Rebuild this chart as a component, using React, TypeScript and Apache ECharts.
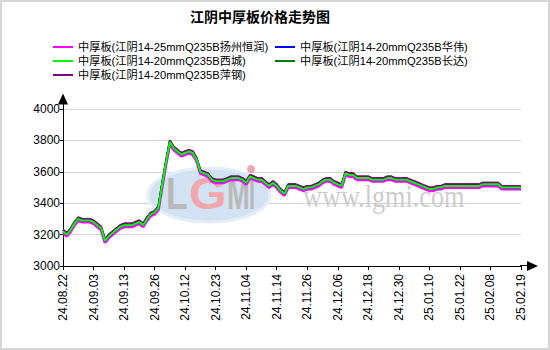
import React, { useEffect, useRef } from "react";
import * as echarts from "echarts";

const FONT = "'Liberation Sans', 'Noto Sans CJK SC', sans-serif";

const chartTitle = "江阴中厚板价格走势图";

const categories = [
  "24.08.22", "24.08.23", "24.08.26", "24.08.27", "24.08.28", "24.08.29", "24.08.30", "24.09.02", "24.09.03", "24.09.04",
  "24.09.05", "24.09.06", "24.09.09", "24.09.10", "24.09.11", "24.09.12", "24.09.13", "24.09.14", "24.09.18", "24.09.19",
  "24.09.20", "24.09.23", "24.09.24", "24.09.25", "24.09.26", "24.09.27", "24.09.29", "24.09.30", "24.10.08", "24.10.09",
  "24.10.10", "24.10.11", "24.10.12", "24.10.14", "24.10.15", "24.10.16", "24.10.17", "24.10.18", "24.10.21", "24.10.22",
  "24.10.23", "24.10.24", "24.10.25", "24.10.28", "24.10.29", "24.10.30", "24.10.31", "24.11.01", "24.11.04", "24.11.05",
  "24.11.06", "24.11.07", "24.11.08", "24.11.11", "24.11.12", "24.11.13", "24.11.14", "24.11.15", "24.11.18", "24.11.19",
  "24.11.20", "24.11.21", "24.11.22", "24.11.25", "24.11.26", "24.11.27", "24.11.28", "24.11.29", "24.12.02", "24.12.03",
  "24.12.04", "24.12.05", "24.12.06", "24.12.09", "24.12.10", "24.12.11", "24.12.12", "24.12.13", "24.12.16", "24.12.17",
  "24.12.18", "24.12.19", "24.12.20", "24.12.23", "24.12.24", "24.12.25", "24.12.26", "24.12.27", "24.12.30", "24.12.31",
  "25.01.02", "25.01.03", "25.01.06", "25.01.07", "25.01.08", "25.01.09", "25.01.10", "25.01.13", "25.01.14", "25.01.15",
  "25.01.16", "25.01.17", "25.01.20", "25.01.21", "25.01.22", "25.01.23", "25.01.24", "25.01.26", "25.01.27", "25.02.05",
  "25.02.06", "25.02.07", "25.02.08", "25.02.10", "25.02.11", "25.02.12", "25.02.13", "25.02.14", "25.02.17", "25.02.18",
  "25.02.19",
];

const seriesNames = [
  "中厚板(江阴14-25mmQ235B扬州恒润)",
  "中厚板(江阴14-20mmQ235B华伟)",
  "中厚板(江阴14-20mmQ235B西城)",
  "中厚板(江阴14-20mmQ235B长达)",
  "中厚板(江阴14-20mmQ235B萍钢)",
];

const yangzhouHengrun = [
  3210, 3190, 3220, 3260, 3290, 3280, 3280, 3280, 3270, 3250,
  3230, 3150, 3180, 3200, 3220, 3240, 3250, 3250, 3250, 3260,
  3270, 3250, 3290, 3320, 3330, 3360, 3510, 3650, 3780, 3740,
  3720, 3700, 3710, 3720, 3710, 3670, 3590, 3580, 3570, 3540,
  3530, 3530, 3530, 3540, 3550, 3550, 3550, 3540, 3520, 3560,
  3550, 3540, 3540, 3520, 3500, 3520, 3500, 3470, 3450, 3500,
  3500, 3500, 3490, 3480, 3490, 3490, 3500, 3510, 3530, 3540,
  3540, 3520, 3510, 3500, 3580, 3570, 3570, 3550, 3550, 3550,
  3550, 3540, 3540, 3540, 3540, 3550, 3550, 3540, 3540, 3540,
  3540, 3530, 3520, 3510, 3500, 3490, 3480, 3480, 3490, 3490,
  3500, 3500, 3500, 3500, 3500, 3500, 3500, 3500, 3500, 3500,
  3510, 3510, 3510, 3510, 3510, 3490, 3490, 3490, 3490, 3490,
  3490,
];

const huawei = [
  3220, 3200, 3230, 3270, 3300, 3290, 3290, 3290, 3280, 3260,
  3240, 3160, 3190, 3210, 3230, 3250, 3260, 3260, 3260, 3270,
  3280, 3260, 3300, 3330, 3340, 3370, 3520, 3660, 3790, 3750,
  3730, 3710, 3720, 3730, 3720, 3680, 3600, 3590, 3580, 3550,
  3540, 3540, 3540, 3550, 3560, 3560, 3560, 3550, 3530, 3570,
  3560, 3550, 3550, 3530, 3510, 3530, 3510, 3480, 3460, 3510,
  3510, 3510, 3500, 3490, 3500, 3500, 3510, 3520, 3540, 3550,
  3550, 3530, 3520, 3510, 3590, 3580, 3580, 3560, 3560, 3560,
  3560, 3550, 3550, 3550, 3550, 3560, 3560, 3550, 3550, 3550,
  3550, 3540, 3530, 3520, 3510, 3500, 3490, 3490, 3500, 3500,
  3510, 3510, 3510, 3510, 3510, 3510, 3510, 3510, 3510, 3510,
  3520, 3520, 3520, 3520, 3520, 3500, 3500, 3500, 3500, 3500,
  3500,
];

const xicheng = [
  3220, 3200, 3230, 3270, 3300, 3290, 3290, 3290, 3280, 3260,
  3240, 3160, 3190, 3210, 3230, 3250, 3260, 3260, 3260, 3270,
  3280, 3260, 3300, 3330, 3340, 3370, 3520, 3660, 3790, 3750,
  3730, 3710, 3720, 3730, 3720, 3680, 3600, 3590, 3580, 3550,
  3540, 3540, 3540, 3550, 3560, 3560, 3560, 3550, 3530, 3570,
  3560, 3550, 3550, 3530, 3510, 3530, 3510, 3480, 3460, 3510,
  3510, 3510, 3500, 3490, 3500, 3500, 3510, 3520, 3540, 3550,
  3550, 3530, 3520, 3510, 3590, 3580, 3580, 3560, 3560, 3560,
  3560, 3550, 3550, 3550, 3550, 3560, 3560, 3550, 3550, 3550,
  3550, 3540, 3530, 3520, 3510, 3500, 3490, 3490, 3500, 3500,
  3510, 3510, 3510, 3510, 3510, 3510, 3510, 3510, 3510, 3510,
  3520, 3520, 3520, 3520, 3520, 3500, 3500, 3500, 3500, 3500,
  3500,
];

const changda = [
  3230, 3210, 3240, 3280, 3310, 3300, 3300, 3300, 3290, 3270,
  3250, 3170, 3200, 3220, 3240, 3260, 3270, 3270, 3270, 3280,
  3290, 3270, 3310, 3340, 3350, 3380, 3530, 3670, 3800, 3760,
  3740, 3720, 3730, 3740, 3730, 3690, 3610, 3600, 3590, 3560,
  3550, 3550, 3550, 3560, 3570, 3570, 3570, 3560, 3540, 3580,
  3570, 3560, 3560, 3540, 3520, 3540, 3520, 3490, 3470, 3520,
  3520, 3520, 3510, 3500, 3510, 3510, 3520, 3530, 3550, 3560,
  3560, 3540, 3530, 3520, 3600, 3590, 3590, 3570, 3570, 3570,
  3570, 3560, 3560, 3560, 3560, 3570, 3570, 3560, 3560, 3560,
  3560, 3550, 3540, 3530, 3520, 3510, 3500, 3500, 3510, 3510,
  3520, 3520, 3520, 3520, 3520, 3520, 3520, 3520, 3520, 3520,
  3530, 3530, 3530, 3530, 3530, 3510, 3510, 3510, 3510, 3510,
  3510,
];

const pinggang = [
  3230, 3210, 3240, 3280, 3310, 3300, 3300, 3300, 3290, 3270,
  3250, 3170, 3200, 3220, 3240, 3260, 3270, 3270, 3270, 3280,
  3290, 3270, 3310, 3340, 3350, 3380, 3530, 3670, 3800, 3760,
  3740, 3720, 3730, 3740, 3730, 3690, 3610, 3600, 3590, 3560,
  3550, 3550, 3550, 3560, 3570, 3570, 3570, 3560, 3540, 3580,
  3570, 3560, 3560, 3540, 3520, 3540, 3520, 3490, 3470, 3520,
  3520, 3520, 3510, 3500, 3510, 3510, 3520, 3530, 3550, 3560,
  3560, 3540, 3530, 3520, 3600, 3590, 3590, 3570, 3570, 3570,
  3570, 3560, 3560, 3560, 3560, 3570, 3570, 3560, 3560, 3560,
  3560, 3550, 3540, 3530, 3520, 3510, 3500, 3500, 3510, 3510,
  3520, 3520, 3520, 3520, 3520, 3520, 3520, 3520, 3520, 3520,
  3530, 3530, 3530, 3530, 3530, 3510, 3510, 3510, 3510, 3510,
  3510,
];

const yMin = 3000;
const yMax = 4000;
const yInterval = 200;

const seriesColors = ["#ff00ff", "#0000ff", "#00ff00", "#008000", "#800080"];

export default function App() {
  const ref = useRef<HTMLDivElement>(null);

  useEffect(() => {
    if (!ref.current) return;
    const chart = echarts.init(ref.current, null, { renderer: "svg" });

    const dataSets = [yangzhouHengrun, huawei, xicheng, changda, pinggang];
    const widths = [3, 2, 2, 2, 2];
    const zs = [2, 3, 6, 4, 5];

    const series = dataSets.map((d, i) => ({
      name: seriesNames[i],
      type: "line",
      data: d,
      showSymbol: false,
      symbol: "none",
      z: zs[i],
      lineStyle: { color: seriesColors[i], width: widths[i] },
      itemStyle: { color: seriesColors[i] },
    }));

    const legendCommon = {
      orient: "vertical",
      top: 40,
      padding: 0,
      itemGap: 0,
      itemWidth: 20,
      itemHeight: 2,
      icon: "rect",
      textStyle: { fontFamily: FONT, fontSize: 11.2, color: "#000", lineHeight: 14 },
    };

    chart.setOption({
      animation: false,
      color: seriesColors,
      title: {
        text: chartTitle,
        left: 190,
        top: 10,
        padding: 0,
        textStyle: { fontFamily: FONT, fontSize: 14, fontWeight: "bold", color: "#000" },
      },
      legend: [
        { ...legendCommon, left: 53, data: [seriesNames[0], seriesNames[2], seriesNames[4]] },
        { ...legendCommon, left: 275, data: [seriesNames[1], seriesNames[3]] },
      ],
      grid: { left: 63, right: 29, top: 109, bottom: 84, containLabel: false },
      xAxis: {
        type: "category",
        data: categories,
        boundaryGap: false,
        axisLine: {
          lineStyle: { color: "#000", width: 1 },
          symbol: ["none", "triangle"],
          symbolSize: [10, 11],
          symbolOffset: [0, 11.5],
        },
        axisTick: { show: true, interval: 7, length: 4, lineStyle: { color: "#000" } },
        axisLabel: {
          interval: 7,
          rotate: 90,
          margin: 8,
          color: "#000",
          fontFamily: FONT,
          fontSize: 12,
        },
        splitLine: { show: false },
      },
      yAxis: {
        type: "value",
        min: yMin,
        max: yMax,
        interval: yInterval,
        axisLine: {
          show: true,
          lineStyle: { color: "#000", width: 1 },
          symbol: ["none", "triangle"],
          symbolSize: [10, 11],
          symbolOffset: [0, 10],
        },
        axisTick: { show: true, length: 3, lineStyle: { color: "#000" } },
        axisLabel: {
          margin: 3,
          color: "#000",
          fontFamily: FONT,
          fontSize: 12,
          formatter: (v: number) => String(v),
        },
        splitLine: { show: true, lineStyle: { color: "#d3d3d3", width: 1 } },
      },
      graphic: [
        {
          type: "rect",
          z: 0,
          shape: { x: 1, y: 1, width: 548, height: 348 },
          style: { fill: "none", stroke: "#d6d6d6", lineWidth: 2 },
          silent: true,
        },
        {
          type: "ellipse",
          z: 1,
          shape: { cx: 209, cy: 195, rx: 61, ry: 27 },
          style: { fill: "#d3e2f2", stroke: "#e4eef8", lineWidth: 3 },
          silent: true,
        },
        {
          type: "text",
          z: 1,
          x: 166,
          y: 194,
          scaleX: 0.8,
          style: { text: "L", fill: "#b9b9b9", font: "bold 44px 'Liberation Sans'", verticalAlign: "middle", align: "left" },
          silent: true,
        },
        {
          type: "text",
          z: 1,
          x: 189,
          y: 194,
          scaleX: 1.1,
          style: { text: "G", fill: "#f2a6ae", font: "bold 44px 'Liberation Sans'", verticalAlign: "middle", align: "left" },
          silent: true,
        },
        {
          type: "text",
          z: 1,
          x: 227,
          y: 194,
          scaleX: 0.62,
          style: { text: "M", fill: "#b9b9b9", font: "bold 44px 'Liberation Sans'", verticalAlign: "middle", align: "left" },
          silent: true,
        },
        {
          type: "text",
          z: 1,
          x: 249,
          y: 194,
          scaleX: 0.5,
          style: { text: "I", fill: "#b9b9b9", font: "bold 44px 'Liberation Sans'", verticalAlign: "middle", align: "left" },
          silent: true,
        },
        {
          type: "circle",
          z: 1,
          shape: { cx: 251, cy: 169, r: 4 },
          style: { fill: "#f2a6ae" },
          silent: true,
        },
        {
          type: "text",
          z: 1,
          x: 303,
          y: 196,
          scaleX: 0.82,
          style: { text: "www.lgmi.com", fill: "#cdcdcd", font: "32px 'Liberation Serif'", verticalAlign: "middle", align: "left" },
          silent: true,
        },
        {
          type: "line",
          z: 5,
          shape: { x1: 63.5, y1: 110, x2: 63.5, y2: 103 },
          style: { stroke: "#000", lineWidth: 1 },
          silent: true,
        },
        {
          type: "line",
          z: 5,
          shape: { x1: 520, y1: 265.5, x2: 528, y2: 265.5 },
          style: { stroke: "#000", lineWidth: 1 },
          silent: true,
        },
      ],
      series,
    });

    return () => chart.dispose();
  }, []);

  return (
    <div
      ref={ref}
      style={{ position: "fixed", left: 0, top: 0, width: 550, height: 350, background: "#fff" }}
    />
  );
}
